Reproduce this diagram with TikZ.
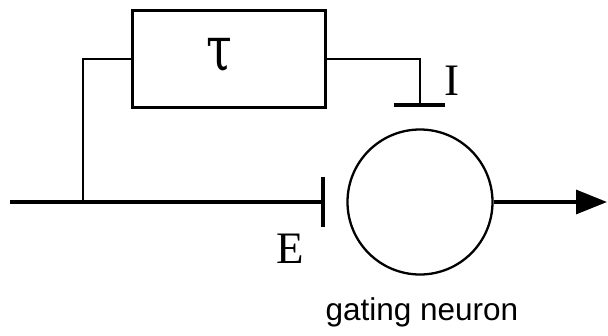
\documentclass[tikz,border=0pt]{standalone}
\usepackage{fontspec}
\setmainfont{Liberation Serif}
\newfontfamily\labelsans{Liberation Sans}
\newfontfamily\greekserif{DejaVu Serif}
\usetikzlibrary{arrows.meta}
\begin{document}
\begin{tikzpicture}[x=1pt,y=-1pt,
  mainline/.style={line width=3.3pt},
  fbline/.style={line width=2.8pt},
  delaybox/.style={draw,line width=2.8pt,minimum width=193pt,minimum height=97pt,inner sep=0pt,anchor=north west},
  neuronshape/.style={circle,draw,line width=2.3pt,minimum size=145pt,inner sep=0pt},
  serlabel/.style={font=\fontsize{45}{45}\selectfont,inner sep=0pt,anchor=base},
  caption/.style={font=\labelsans\fontsize{31.5}{31.5}\selectfont,inner sep=0pt,anchor=base}]
\useasboundingbox (0,0) rectangle (608,335);
% nodes
\node[delaybox] (tau) at (131,9) {};
\node[inner sep=0pt] (tausym) at (219,55) {\scalebox{0.75}[1]{\greekserif\fontsize{62}{62}\selectfont τ}};
\node[neuronshape] (neuron) at (420,202) {};
% coordinates
\coordinate (in) at (10,202);
\coordinate (split) at (83,202);
\coordinate (ebar) at (323,202);
\coordinate (ebartop) at (323,177);
\coordinate (ebarbot) at (323,227);
\coordinate (ibar) at (420,105);
\coordinate (ibarl) at (394,105);
\coordinate (ibarr) at (445,105);
\coordinate (out) at (607,202);
% connectors
\draw[mainline] (in) -- (ebar);
\draw[mainline] (ebartop) -- (ebarbot);
\draw[fbline] (split) |- (tau.west);
\draw[fbline] (tau.east) -| (ibar);
\draw[mainline] (ibarl) -- (ibarr);
\draw[mainline,-{Triangle[length=31pt,width=24pt]}] (neuron.east) -- (out);
% labels
\node[serlabel] (elabel) at (290,263) {E};
\node[serlabel] (ilabel) at (452,95) {I};
\node[caption] (cap) at (422,320) {gating neuron};
\end{tikzpicture}
\end{document}
